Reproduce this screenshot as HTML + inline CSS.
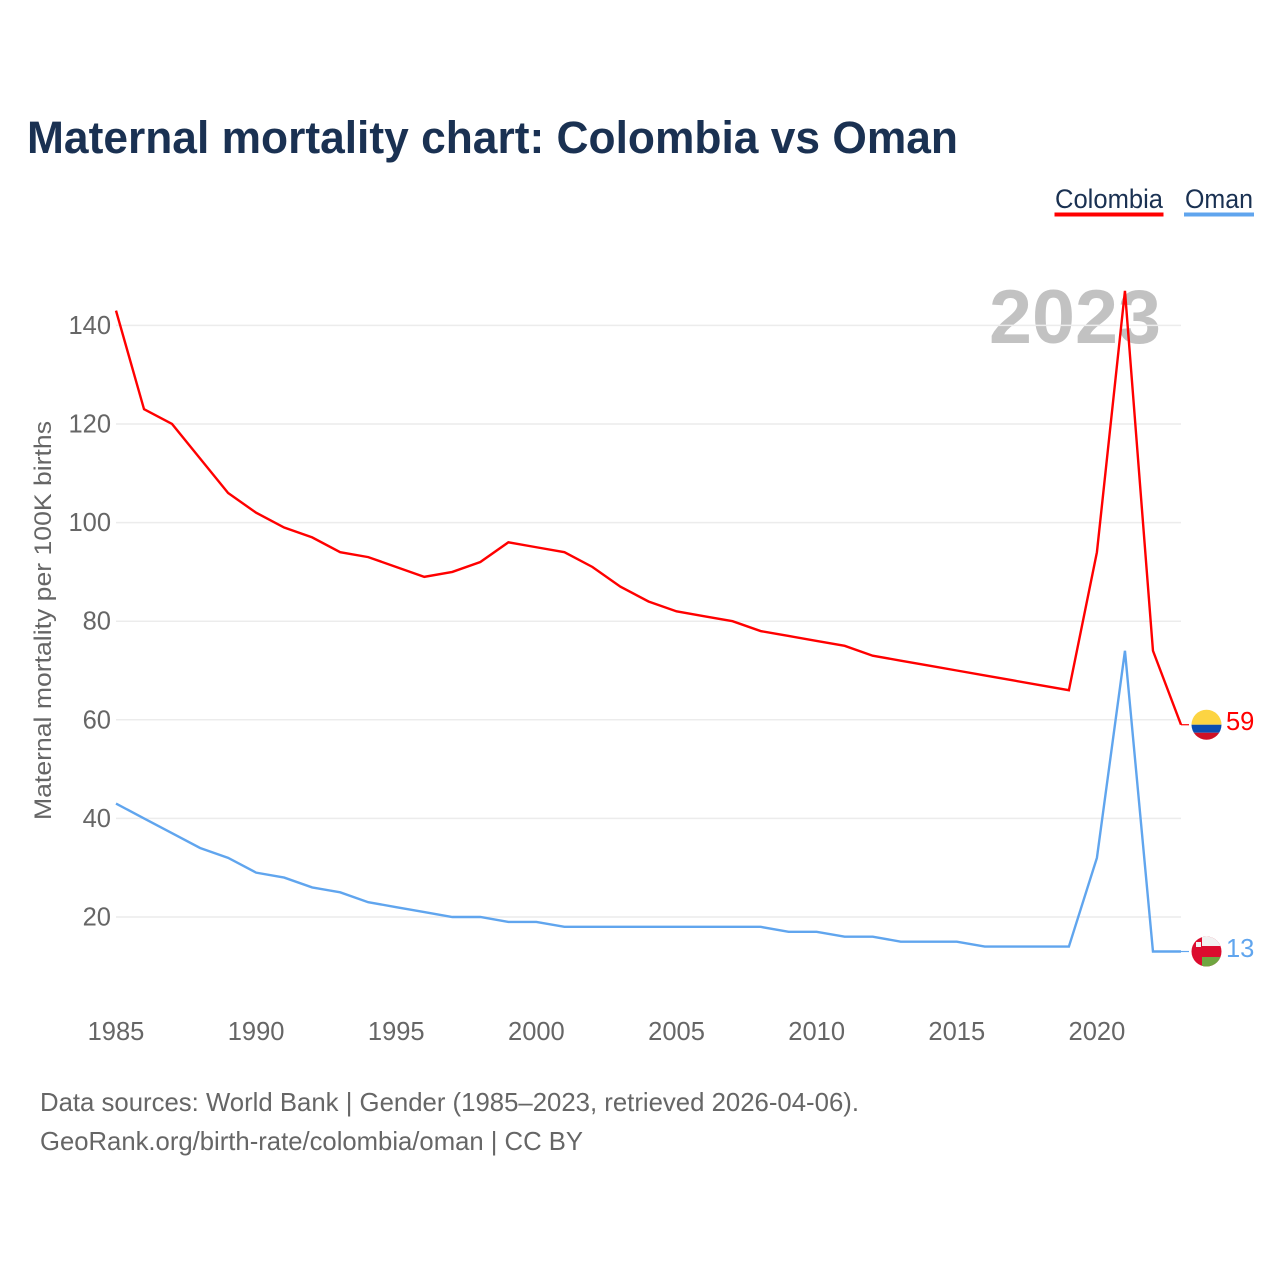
<!DOCTYPE html>
<html lang="en">
<head>
<meta charset="utf-8">
<title>Maternal mortality chart: Colombia vs Oman</title>
<style>
html,body{margin:0;padding:0;background:#fff;}
svg{display:block;font-family:"Liberation Sans",Arial,sans-serif;}
</style>
</head>
<body>
<svg id="chart" xmlns="http://www.w3.org/2000/svg" width="1280" height="1280" viewBox="0 0 1280 1280">
  <defs>
    <clipPath id="flag-clip"><circle cx="0" cy="0" r="15"></circle></clipPath>
  </defs>
  <rect x="0" y="0" width="1280" height="1280" fill="#ffffff"></rect>
  <text x="27" y="153" font-size="45" font-weight="700" fill="#1a3152" textLength="931" lengthAdjust="spacingAndGlyphs">Maternal mortality chart: Colombia vs Oman</text>

  <g>
    <text x="1055" y="208" font-size="27" fill="#1a3152" textLength="108" lengthAdjust="spacingAndGlyphs">Colombia</text>
    <rect x="1054.5" y="212.5" width="109" height="4" fill="#ff0000"></rect>
    <text x="1185" y="208" font-size="27" fill="#1a3152" textLength="68" lengthAdjust="spacingAndGlyphs">Oman</text>
    <rect x="1184" y="212.5" width="70" height="4" fill="#60a5ee"></rect>
  </g>

  <text id="year-watermark" x="989" y="343" font-size="76" font-weight="700" fill="#c2c2c2" textLength="172" lengthAdjust="spacingAndGlyphs"></text>
  <g id="grid"></g>
  <g id="y-ticks"></g>
  <g id="x-ticks"></g>
  <text transform="translate(51,820) rotate(-90)" x="0" y="0" font-size="24.5" fill="#666666" textLength="399" lengthAdjust="spacingAndGlyphs">Maternal mortality per 100K births</text>
  <g id="series"></g>
  <g id="ends"></g>

  <text x="40" y="1111" font-size="26" fill="#666666" textLength="819" lengthAdjust="spacingAndGlyphs">Data sources: World Bank | Gender (1985–2023, retrieved 2026-04-06).</text>
  <text x="40" y="1150" font-size="26" fill="#666666" textLength="543" lengthAdjust="spacingAndGlyphs">GeoRank.org/birth-rate/colombia/oman | CC BY</text>
</svg>
<script>
const years = [1985,1986,1987,1988,1989,1990,1991,1992,1993,1994,1995,1996,1997,1998,1999,2000,2001,2002,2003,2004,2005,2006,2007,2008,2009,2010,2011,2012,2013,2014,2015,2016,2017,2018,2019,2020,2021,2022,2023];
const colombia = [143,123,120,113,106,102,99,97,94,93,91,89,90,92,96,95,94,91,87,84,82,81,80,78,77,76,75,73,72,71,70,69,68,67,66,94,147,74,59];
const oman = [43,40,37,34,32,29,28,26,25,23,22,21,20,20,19,19,18,18,18,18,18,18,18,18,17,17,16,16,15,15,15,14,14,14,14,32,74,13,13];
const yTickValues = [20,40,60,80,100,120,140];
const xTickValues = [1985,1990,1995,2000,2005,2010,2015,2020];

const NS = 'http://www.w3.org/2000/svg';
const xAxis = function (year) { return 116 + (year - 1985) * (1181 - 116) / 38; };
const yAxis = function (value) { return 1015.6 - value * 4.93; };

function make(tag, parent) {
  const el = document.createElementNS(NS, tag);
  parent.appendChild(el);
  return el;
}

document.getElementById('year-watermark').textContent = String(years[years.length - 1]);

const gridGroup = document.getElementById('grid');
const yTickGroup = document.getElementById('y-ticks');
yTickValues.forEach(function (v) {
  const line = make('line', gridGroup);
  
  
  line.setAttribute('x1', xAxis(1985));
  line.setAttribute('x2', xAxis(2023));
  line.setAttribute('y1', yAxis(v));
  line.setAttribute('y2', yAxis(v));
  line.setAttribute('stroke', '#ececec');
  line.setAttribute('stroke-width', '1.5');

  const label = make('text', yTickGroup);
  
  
  label.setAttribute('x', 111);
  label.setAttribute('y', yAxis(v) + 8.5);
  label.setAttribute('text-anchor', 'end');
  label.setAttribute('font-size', '25.5');
  label.setAttribute('fill', '#666666');
  label.textContent = String(v);
});

const xTickGroup = document.getElementById('x-ticks');
xTickValues.forEach(function (year) {
  const label = make('text', xTickGroup);
  
  
  label.setAttribute('x', xAxis(year));
  label.setAttribute('y', 1040);
  label.setAttribute('text-anchor', 'middle');
  label.setAttribute('font-size', '25.5');
  label.setAttribute('fill', '#666666');
  label.textContent = String(year);
});

function drawSeries(values, color, name) {
  const path = make('path', document.getElementById('series'));
  
  
  path.setAttribute('d', values.map(function (v, i) {
    return (i ? 'L' : 'M') + xAxis(years[i]).toFixed(2) + ' ' + yAxis(v).toFixed(2);
  }).join(' '));
  path.setAttribute('fill', 'none');
  path.setAttribute('stroke', color);
  path.setAttribute('stroke-width', '2.4');
  path.setAttribute('stroke-linejoin', 'miter');
}

function drawEnd(values, color, name, stripes) {
  const endsGroup = document.getElementById('ends');
  const last = values[values.length - 1];
  const yPos = yAxis(last);

  const connector = make('line', endsGroup);
  
  
  connector.setAttribute('x1', xAxis(2023));
  connector.setAttribute('x2', 1189);
  connector.setAttribute('y1', yPos);
  connector.setAttribute('y2', yPos);
  connector.setAttribute('stroke', color);
  connector.setAttribute('stroke-width', '1.2');

  const flag = make('g', endsGroup);
  
  
  flag.setAttribute('transform', 'translate(1206.5,' + yPos + ')');
  flag.setAttribute('clip-path', 'url(#flag-clip)');
  stripes.forEach(function (s) {
    const r = make('rect', flag);
    
    
    r.setAttribute('x', s[0]);
    r.setAttribute('y', s[1]);
    r.setAttribute('width', s[2]);
    r.setAttribute('height', s[3]);
    r.setAttribute('fill', s[4]);
  });

  const label = make('text', endsGroup);
  
  
  label.setAttribute('x', 1226);
  label.setAttribute('y', yPos + 5.5);
  label.setAttribute('font-size', '25.5');
  label.setAttribute('fill', color);
  label.textContent = String(last);
}

drawSeries(oman, '#60a5ee', 'oman');
drawSeries(colombia, '#ff0000', 'colombia');

drawEnd(colombia, '#ff0000', 'colombia', [
  [-15, -16, 30, 16, '#fcd442'],
  [-15, 0, 30, 8, '#0a4db0'],
  [-15, 8, 30, 8, '#ce1126']
]);
drawEnd(oman, '#60a5ee', 'oman', [
  [-15, -16, 30, 32, '#dc0b2e'],
  [-4.5, -16, 20, 10.5, '#f2f2f2'],
  [-4.5, 5.5, 20, 11, '#6fa540'],
  [-10.5, -9.5, 5, 5, '#f2f2f2']
]);
</script>
</body>
</html>
